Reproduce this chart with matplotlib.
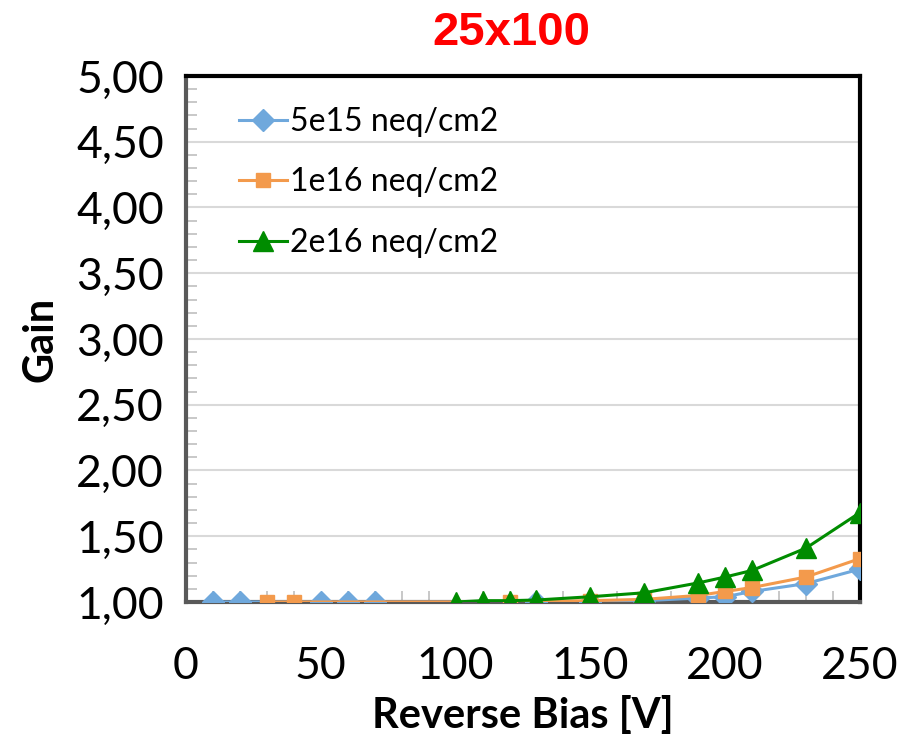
import matplotlib
matplotlib.use('Agg')
import matplotlib.pyplot as plt
from matplotlib.ticker import MultipleLocator, FuncFormatter

# Gain vs reverse bias, 25x100 pixel
bias_5e15 = [10, 20, 50, 60, 70, 130, 150, 170, 190, 200, 210, 230, 250]
gain_5e15 = [1.00, 1.00, 1.00, 1.00, 1.00, 1.00, 1.00, 1.01, 1.03, 1.04, 1.08, 1.14, 1.25]

bias_1e16 = [30, 40, 120, 150, 170, 190, 200, 210, 230, 250]
gain_1e16 = [1.00, 1.00, 1.00, 1.01, 1.02, 1.05, 1.08, 1.11, 1.19, 1.33]

bias_2e16 = [100, 110, 120, 130, 150, 170, 190, 200, 210, 230, 250]
gain_2e16 = [1.00, 1.01, 1.01, 1.015, 1.04, 1.07, 1.145, 1.19, 1.24, 1.41, 1.68]

labels = ['5e15 neq/cm2', '1e16 neq/cm2', '2e16 neq/cm2']

plt.rcParams['font.family'] = ['Lato', 'DejaVu Sans']

fig = plt.figure(figsize=(8.99, 7.41), dpi=100)
ax = fig.add_axes([0.2069, 0.1876, 0.7497, 0.7099])

ax.plot(bias_5e15, gain_5e15, color='#6FA8DC', marker='D', markersize=11, lw=2.2, label=labels[0], zorder=3)
ax.plot(bias_1e16, gain_1e16, color='#F39A4C', marker='s', markersize=10, lw=2.2, label=labels[1], zorder=4)
ax.plot(bias_2e16, gain_2e16, color='#008C00', marker='^', markersize=14, lw=2.2, label=labels[2], zorder=5)

ax.set_xlim(0, 250)
ax.set_ylim(1.0, 5.0)
ax.xaxis.set_major_locator(MultipleLocator(50))
ax.xaxis.set_minor_locator(MultipleLocator(10))
ax.yaxis.set_major_locator(MultipleLocator(0.5))
ax.yaxis.set_minor_locator(MultipleLocator(0.1))
ax.yaxis.set_major_formatter(FuncFormatter(lambda v, p: f'{v:.2f}'.replace('.', ',')))

ax.tick_params(axis='both', which='major', length=0, labelsize=32)
ax.tick_params(axis='y', which='major', pad=16)
ax.tick_params(axis='x', which='major', pad=32)
ax.tick_params(axis='both', which='minor', direction='in', length=8, width=1.2, color='#BFBFBF')

ax.grid(True, axis='y', which='major', color='#D9D9D9', lw=1.5)
ax.set_axisbelow(True)

for side in ['top', 'right']:
    ax.spines[side].set_color('black')
    ax.spines[side].set_linewidth(3)
for side in ['left', 'bottom']:
    ax.spines[side].set_color('#595959')
    ax.spines[side].set_linewidth(3)

ax.set_xlabel('Reverse Bias [V]', fontsize=30, fontweight='bold', labelpad=6)
ax.set_ylabel('Gain', fontsize=30, fontweight='bold', labelpad=12)
fig.text(0.569, 0.955, '25x100', color='red', fontsize=34, fontweight='bold',
         family='Liberation Sans', ha='center', va='center')

ax.legend(loc='upper left', bbox_to_anchor=(0.06, 0.965), frameon=False, fontsize=23,
          handlelength=1.5, handletextpad=0.1, labelspacing=0.95, borderaxespad=0)

fig.savefig('out.png', dpi=100)
